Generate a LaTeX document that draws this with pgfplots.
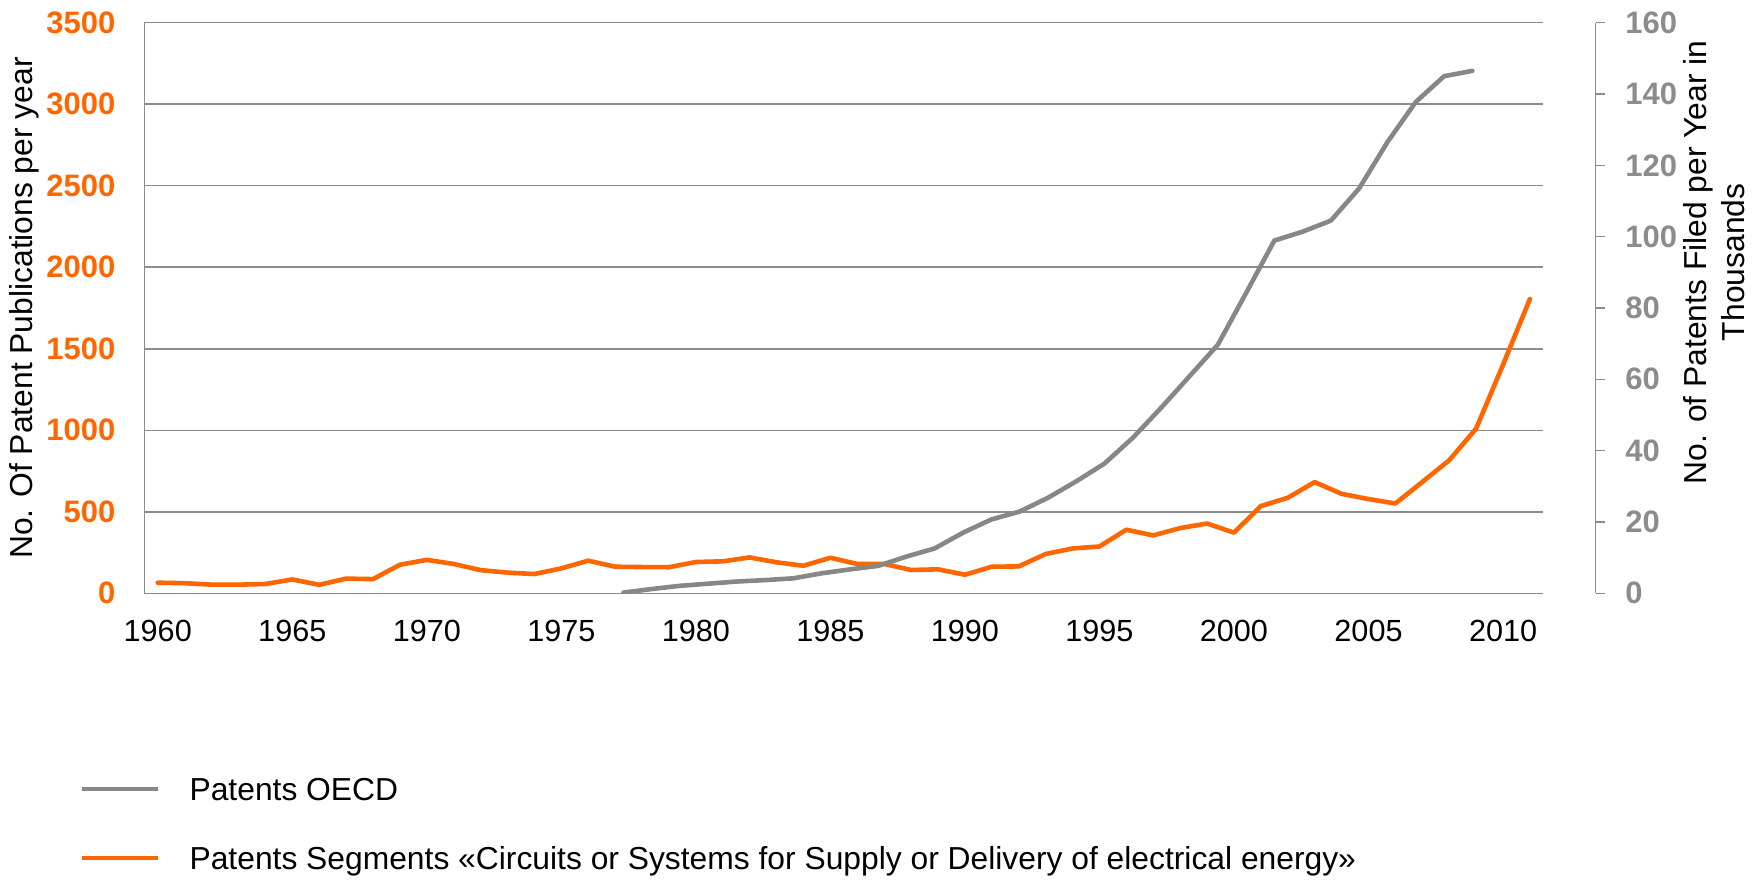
\documentclass[border=0pt]{standalone}
\usepackage{pgfplots}
\pgfplotsset{compat=1.18}
\usepackage{fontspec}
\setmainfont{Liberation Sans}
\definecolor{orangeline}{HTML}{FF6600}
\definecolor{grayline}{HTML}{878787}
\definecolor{gridgray}{HTML}{8C8C8C}
\definecolor{ticklabelgray}{HTML}{8C8C8C}
\pgfkeys{/pgf/number format/.cd,1000 sep={},assume math mode=true}
\newcommand{\chfont}{\fontsize{15.9}{19}\selectfont}
\newcommand{\tkfont}{\fontsize{15.3}{18}\selectfont}
\newcommand{\bkfont}{\fontsize{15.5}{18}\selectfont}

\pgfplotstableread{
year val
1960 65
1961 62
1962 53
1963 53
1964 57
1965 85
1966 52
1967 90
1968 87
1969 175
1970 205
1971 180
1972 142
1973 127
1974 118
1975 153
1976 200
1977 163
1978 161
1979 160
1980 192
1981 196
1982 220
1983 190
1984 169
1985 218
1986 180
1987 180
1988 143
1989 147
1990 114
1991 163
1992 165
1993 241
1994 275
1995 287
1996 390
1997 355
1998 400
1999 428
2000 372
2001 535
2002 586
2003 682
2004 610
2005 578
2006 551
2007 683
2008 816
2009 1010
2010 1402
2011 1805
}\segdata

\pgfplotstableread{
year val
1977.31 0.2
1978.36 1.2
1979.41 2.1
1980.47 2.7
1981.52 3.3
1982.57 3.7
1983.62 4.2
1984.67 5.6
1985.72 6.7
1986.78 7.7
1987.83 10.3
1988.88 12.6
1989.93 17.0
1990.98 20.7
1992.03 22.9
1993.09 26.8
1994.14 31.4
1995.19 36.4
1996.24 43.6
1997.29 52.0
1998.34 60.8
1999.40 69.7
2000.45 84.2
2001.50 98.9
2002.55 101.4
2003.60 104.5
2004.65 113.5
2005.71 126.6
2006.76 137.8
2007.81 145.0
2008.86 146.5
}\oecddata

\begin{document}
\begin{tikzpicture}
\path[use as bounding box] (0,0) rectangle (881.5pt,439.5pt);
% primary axis
\begin{axis}[
  at={(72.15pt,142.85pt)}, anchor=south west,
  scale only axis, width=699.55pt, height=285.3pt,
  xmin=1959.5, xmax=2011.5, ymin=0, ymax=3500,
  axis x line*=bottom, axis y line*=left,
  axis line style={draw=gridgray, line width=0.75pt, -},
  xtick={1960,1965,...,2010},
  ytick={0,500,...,3500},
  major tick length=0pt,
  tick style={draw=none},
  ymajorgrids, grid style={draw=gridgray, line width=0.75pt},
  font=\chfont,
  xticklabel style={anchor=north, inner sep=0pt, yshift=-13.35pt, font=\tkfont},
  yticklabel={\textbf{\pgfmathprintnumber{\tick}}},
  yticklabel style={anchor=east, inner sep=0pt, xshift=-14.3pt, font=\bkfont, text=orangeline},
  ylabel={No. Of Patent Publications per year},
  every axis y label/.style={at={(axis description cs:-0.0856,0.5)}, anchor=center, rotate=90, inner sep=0pt, font=\chfont},
]
\addplot[orangeline, line width=2.3pt, line join=round, line cap=round] table[x=year, y=val] {\segdata};
\end{axis}
% secondary data axis
\begin{axis}[
  at={(72.15pt,142.85pt)}, anchor=south west,
  scale only axis, width=699.55pt, height=285.3pt,
  xmin=1959.5, xmax=2011.5, ymin=0, ymax=160,
  hide axis,
  legend style={at={(axis description cs:-0.04596,-0.3372)}, anchor=north west, draw=none, fill=none, inner sep=0pt, outer sep=0pt, row sep=27.4pt, column sep=14.5pt, nodes={inner sep=0pt, text height=0.72em, text depth=0pt, font=\chfont}},
  legend cell align=left,
  legend image code/.code={\draw[#1, line cap=butt] (0pt,1.9pt) -- (38pt,1.9pt);},
]
\addplot[grayline, line width=2.3pt, line join=round, line cap=round] table[x=year, y=val] {\oecddata};
\addlegendentry{Patents OECD}
\addlegendimage{orangeline, line width=2pt}
\addlegendentry{Patents Segments «Circuits or Systems for Supply or Delivery of electrical energy»}
\end{axis}
% detached right axis
\begin{axis}[
  at={(797.85pt,142.85pt)}, anchor=south east,
  scale only axis, width=20pt, height=285.3pt,
  xmin=0, xmax=1, ymin=0, ymax=160,
  axis y line*=right, axis x line=none,
  axis line style={draw=gridgray, line width=0.75pt, -},
  ytick={0,20,...,160},
  tick align=outside, major tick length=4.65pt,
  tick style={draw=gridgray, line width=0.75pt},
  yticklabel={\textbf{\pgfmathprintnumber{\tick}}},
  yticklabel style={anchor=west, inner sep=0pt, xshift=10pt, font=\bkfont, text=ticklabelgray},
  ylabel={No. of Patents Filed per Year in\\Thousands},
  every axis y label/.style={at={(axis description cs:3.1825,0.580)}, anchor=north, rotate=90, align=center, inner sep=0pt, font=\chfont},
]
\end{axis}
\end{tikzpicture}
\end{document}
